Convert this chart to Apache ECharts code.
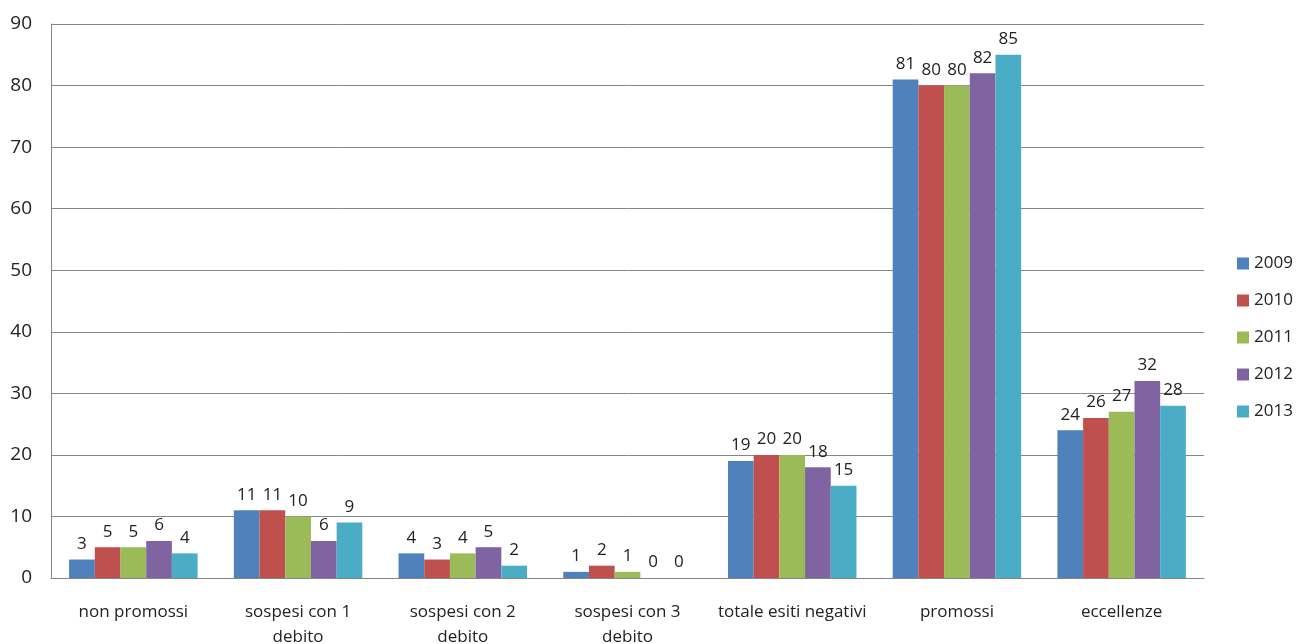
<!DOCTYPE html>
<html>
<head>
<meta charset="utf-8">
<script src="https://cdn.jsdelivr.net/npm/echarts@6/dist/echarts.min.js"></script>
<style>
  html, body { margin: 0; padding: 0; background: #fff; }
  #chart { width: 1298px; height: 644px; }
</style>
</head>
<body>
<div id="chart"></div>
<script>
// Outcome categories (x axis)
const categories = [
  'non promossi',
  'sospesi con 1\ndebito',
  'sospesi con 2\ndebito',
  'sospesi con 3\ndebito',
  'totale esiti negativi',
  'promossi',
  'eccellenze'
];

// Values per year
const years = ['2009', '2010', '2011', '2012', '2013'];
const v2009 = [3, 11, 4, 1, 19, 81, 24];
const v2010 = [5, 11, 3, 2, 20, 80, 26];
const v2011 = [5, 10, 4, 1, 20, 80, 27];
const v2012 = [6, 6, 5, 0, 18, 82, 32];
const v2013 = [4, 9, 2, 0, 15, 85, 28];

const yTicks = { min: 0, max: 90, interval: 10 };

const colors = ['#4F81BD', '#C0504D', '#9BBB59', '#8064A2', '#4BACC6'];
const seriesData = [v2009, v2010, v2011, v2012, v2013];
const font = '"Open Sans", "Noto Sans", sans-serif';

const chart = echarts.init(document.getElementById('chart'));
chart.setOption({
  animation: false,
  color: colors,
  textStyle: { fontFamily: font },
  grid: { left: 51, right: 94, top: 24, bottom: 66, containLabel: false, outerBoundsMode: 'none' },
  legend: {
    orient: 'vertical',
    left: 1237,
    top: 252,
    padding: 0,
    itemWidth: 12,
    itemHeight: 12,
    itemGap: 14,
    icon: 'rect',
    textStyle: { fontSize: 17, lineHeight: 23, color: '#222', fontFamily: font },
    data: years
  },
  xAxis: {
    type: 'category',
    data: categories,
    axisLine: { lineStyle: { color: '#868686' } },
    axisTick: { show: false },
    axisLabel: {
      interval: 0,
      fontSize: 17,
      color: '#222',
      margin: 22,
      lineHeight: 25,
      fontFamily: font
    }
  },
  yAxis: {
    type: 'value',
    min: yTicks.min,
    max: yTicks.max,
    interval: yTicks.interval,
    axisLine: { show: true, lineStyle: { color: '#868686' } },
    axisTick: { show: false },
    splitLine: { lineStyle: { color: '#868686' } },
    axisLabel: { fontSize: 19, color: '#222', margin: 19, fontFamily: font }
  },
  series: years.map((y, i) => ({
    name: y,
    type: 'bar',
    data: seriesData[i],
    barGap: '0%',
    barCategoryGap: '22%',
    itemStyle: { color: colors[i] },
    label: {
      show: true,
      position: 'top',
      distance: 7,
      fontSize: 17,
      color: '#222',
      fontFamily: font
    }
  }))
});
</script>
</body>
</html>
